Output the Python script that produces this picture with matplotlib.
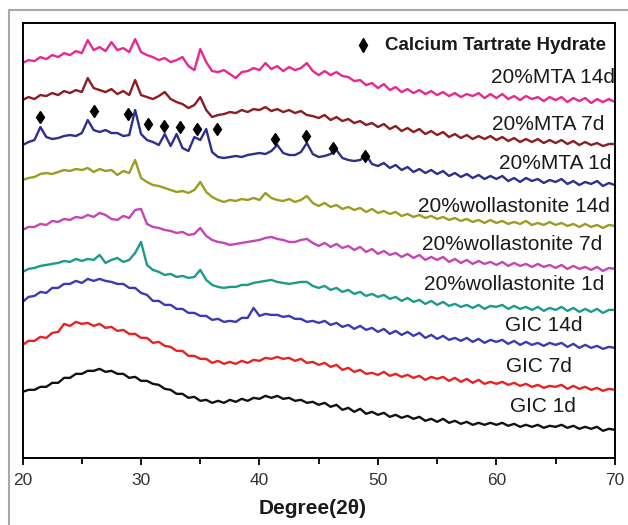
import numpy as np
import matplotlib.pyplot as plt
from matplotlib.lines import Line2D

plt.rcParams['font.family'] = ['Liberation Sans', 'DejaVu Sans']

# 2theta grid, 0.5 deg step
two_theta = np.arange(20, 70.5, 0.5)

# stacked intensities (a.u., offset already applied)
mta_14d = [397, 400, 399, 403, 401, 405, 403, 407, 405, 409,
           407, 420, 410, 413, 409, 418, 410, 412, 408, 421,
           408, 405, 403, 400, 402, 398, 400, 403, 394, 390,
           411, 398, 389, 388, 390, 386, 382, 388, 389, 392,
           390, 397, 391, 394, 389, 393, 390, 392, 397, 389,
           385, 389, 385, 388, 384, 383, 379, 380, 375, 377,
           372, 376, 370, 373, 368, 371, 367, 370, 366, 369,
           365, 368, 364, 367, 363, 366, 364, 367, 362, 366,
           362, 366, 361, 364, 360, 364, 361, 363, 359, 363,
           360, 363, 358, 362, 359, 362, 357, 361, 358, 361,
           358]
mta_7d = [360, 363, 361, 365, 364, 367, 365, 369, 367, 370,
          368, 382, 372, 370, 368, 371, 366, 369, 365, 380,
          365, 363, 361, 364, 368, 361, 358, 356, 352, 355,
          363, 350, 343, 345, 346, 348, 347, 350, 348, 351,
          350, 353, 349, 351, 348, 350, 347, 349, 345, 344,
          342, 345, 340, 343, 339, 341, 337, 339, 335, 337,
          333, 336, 331, 334, 329, 332, 328, 331, 326, 329,
          325, 328, 323, 326, 322, 325, 321, 324, 321, 324,
          320, 323, 319, 322, 318, 321, 318, 321, 317, 320,
          317, 320, 316, 319, 315, 318, 315, 317, 314, 316,
          316]
mta_1d = [315, 318, 320, 333, 323, 321, 322, 324, 325, 324,
          327, 340, 330, 328, 330, 327, 327, 324, 325, 350,
          326, 320, 318, 315, 326, 314, 326, 312, 309, 323,
          320, 331, 308, 303, 302, 303, 304, 303, 305, 306,
          307, 306, 309, 315, 307, 305, 305, 308, 317, 306,
          303, 304, 306, 310, 302, 300, 299, 300, 305, 296,
          294, 297, 292, 295, 290, 293, 288, 291, 287, 290,
          286, 289, 284, 287, 283, 286, 282, 285, 281, 284,
          281, 284, 279, 282, 278, 282, 279, 281, 277, 280,
          278, 281, 276, 279, 275, 278, 276, 279, 274, 277,
          275]
woll_14d = [280, 282, 283, 286, 287, 286, 288, 290, 289, 291,
            290, 292, 288, 291, 289, 290, 285, 289, 287, 300,
            282, 278, 275, 274, 272, 270, 268, 269, 267, 270,
            278, 268, 263, 260, 258, 260, 259, 261, 260, 262,
            260, 267, 262, 260, 259, 261, 258, 260, 264, 257,
            254, 257, 253, 255, 251, 253, 250, 252, 248, 251,
            247, 249, 246, 248, 244, 246, 243, 245, 242, 244,
            241, 243, 240, 242, 239, 241, 238, 240, 237, 240,
            237, 239, 236, 238, 236, 239, 235, 237, 235, 238,
            235, 237, 234, 236, 233, 236, 233, 235, 232, 235,
            234]
woll_7d = [230, 233, 233, 236, 235, 239, 238, 241, 240, 243,
           242, 245, 243, 247, 245, 241, 240, 244, 242, 250,
           251, 236, 233, 232, 230, 229, 227, 228, 225, 226,
           232, 224, 220, 218, 217, 215, 216, 217, 218, 219,
           220, 222, 223, 221, 220, 218, 218, 220, 221, 217,
           214, 217, 213, 216, 212, 214, 210, 213, 208, 211,
           206, 209, 205, 207, 203, 206, 202, 205, 200, 203,
           200, 203, 198, 201, 197, 200, 196, 199, 196, 198,
           195, 198, 194, 197, 194, 196, 193, 196, 193, 195,
           192, 195, 191, 194, 191, 193, 190, 193, 189, 192,
           191]
woll_1d = [188, 191, 192, 194, 195, 196, 197, 199, 198, 201,
           199, 201, 200, 205, 197, 200, 202, 198, 200, 207,
           218, 195, 190, 188, 185, 186, 183, 184, 182, 183,
           190, 180, 175, 173, 172, 173, 173, 175, 175, 177,
           178, 179, 180, 178, 177, 176, 177, 178, 178, 174,
           172, 174, 170, 172, 168, 170, 166, 168, 164, 166,
           163, 165, 161, 163, 159, 162, 158, 160, 156, 159,
           155, 158, 154, 156, 153, 155, 152, 155, 151, 154,
           153, 155, 151, 154, 151, 153, 150, 153, 149, 152,
           150, 153, 149, 152, 148, 151, 148, 151, 147, 150,
           150]
gic_14d = [158, 163, 164, 168, 167, 172, 172, 176, 176, 179,
           177, 181, 179, 181, 179, 178, 176, 176, 172, 172,
           167, 165, 159, 159, 155, 155, 151, 151, 147, 147,
           144, 144, 140, 141, 138, 139, 138, 142, 142, 152,
           144, 146, 145, 145, 143, 144, 141, 141, 138, 139,
           137, 139, 135, 137, 133, 135, 131, 134, 130, 132,
           128, 131, 126, 129, 125, 128, 124, 127, 122, 125,
           121, 124, 120, 122, 119, 122, 118, 121, 117, 120,
           118, 120, 116, 119, 115, 118, 115, 117, 114, 117,
           115, 117, 113, 116, 112, 115, 112, 114, 111, 113,
           112]
gic_7d = [115, 119, 119, 123, 122, 127, 128, 136, 134, 138,
          136, 137, 134, 136, 132, 133, 129, 130, 126, 126,
          122, 122, 117, 118, 114, 113, 109, 109, 104, 104,
          101, 101, 97, 99, 96, 98, 96, 99, 97, 100,
          99, 102, 101, 103, 101, 102, 99, 101, 97, 98,
          95, 97, 93, 95, 90, 92, 88, 90, 86, 87,
          85, 88, 84, 86, 83, 85, 82, 84, 80, 83,
          81, 83, 79, 82, 78, 81, 77, 80, 76, 78,
          76, 78, 75, 77, 74, 76, 73, 75, 72, 74,
          73, 75, 71, 74, 71, 73, 70, 72, 69, 71,
          70]
gic_1d = [68, 70, 70, 73, 73, 77, 77, 82, 82, 86,
          86, 89, 89, 91, 88, 89, 86, 86, 82, 83,
          79, 79, 76, 75, 71, 70, 66, 66, 62, 63,
          59, 60, 57, 59, 57, 60, 58, 61, 59, 62,
          61, 64, 62, 64, 61, 62, 59, 60, 57, 58,
          55, 57, 53, 55, 50, 52, 48, 51, 46, 48,
          45, 47, 43, 45, 42, 44, 41, 43, 39, 41,
          38, 41, 37, 39, 36, 38, 35, 37, 35, 37,
          35, 37, 34, 36, 33, 35, 33, 35, 32, 34,
          33, 35, 32, 34, 31, 33, 31, 33, 29, 31,
          30]

# calcium tartrate hydrate peak marks (on 20%MTA 1d)
cth_x = [21.5, 26.0, 28.9, 30.55, 31.95, 33.3, 34.7, 36.45, 41.35, 43.9, 46.2, 48.9]
cth_y = [343, 349, 346, 336, 334, 333, 331, 331, 321, 324, 312, 304]

series = [mta_14d, mta_7d, mta_1d, woll_14d, woll_7d, woll_1d, gic_14d, gic_7d, gic_1d]
names = ["20%MTA 14d", "20%MTA 7d", "20%MTA 1d",
         "20%wollastonite 14d", "20%wollastonite 7d", "20%wollastonite 1d",
         "GIC 14d", "GIC 7d", "GIC 1d"]
colors = ["#e8288f", "#8c1c22", "#2c2f8c", "#9c9c22", "#c445b4",
          "#1c9a8c", "#3a3ab4", "#e82222", "#111111"]
label_x = [70.0, 69.14, 69.7, 69.56, 68.97, 69.14, 67.28, 66.35, 66.69]
label_y = [382.7, 336, 297, 253.3, 215, 175, 134.3, 93.3, 53.3]

fig = plt.figure(figsize=(6.28, 5.25), dpi=100)
ax = fig.add_axes([0.036, 0.128, 0.943, 0.828])

for vals, name, c, lx, ly in zip(series, names, colors, label_x, label_y):
    ax.plot(two_theta, vals, color=c, lw=1.7)
    ax.text(lx, ly, name, ha="right", va="center", fontsize=15, color="#1a1a1a")

ax.plot(cth_x, cth_y, linestyle="none", marker="d", markersize=6, color="black")

# legend
ax.plot([48.72], [415], linestyle="none", marker="d", markersize=7, color="black")
ax.text(50.57, 415, "Calcium Tartrate Hydrate", ha="left", va="center",
        fontsize=13.5, fontweight="bold", color="#1a1a1a")

ax.set_xlim(20, 70)
ax.set_ylim(2, 437)
ax.set_yticks([])
ax.set_xticks([20, 30, 40, 50, 60, 70])
ax.set_xticks([25, 35, 45, 55, 65], minor=True)
ax.tick_params(axis="x", which="major", direction="out", length=5, width=1.3,
               pad=6, labelsize=12.5, labelcolor="#333333")
ax.tick_params(axis="x", which="minor", direction="out", length=4, width=1.3)
for s in ax.spines.values():
    s.set_linewidth(1.4)

ax.set_xlabel("Degree(2θ)", fontsize=15, fontweight="bold", va="center", color="#1a1a1a")
ax.xaxis.set_label_coords(0.49, -0.117)

# grey frame around the figure
fig.add_artist(Line2D([9 / 628, 1], [1 - 10 / 525, 1 - 10 / 525], color="#a8a8a8",
                      lw=1.5, transform=fig.transFigure))
fig.add_artist(Line2D([9 / 628, 9 / 628], [0, 1 - 10 / 525], color="#a8a8a8",
                      lw=1.5, transform=fig.transFigure))

fig.savefig("out.png", dpi=100)
